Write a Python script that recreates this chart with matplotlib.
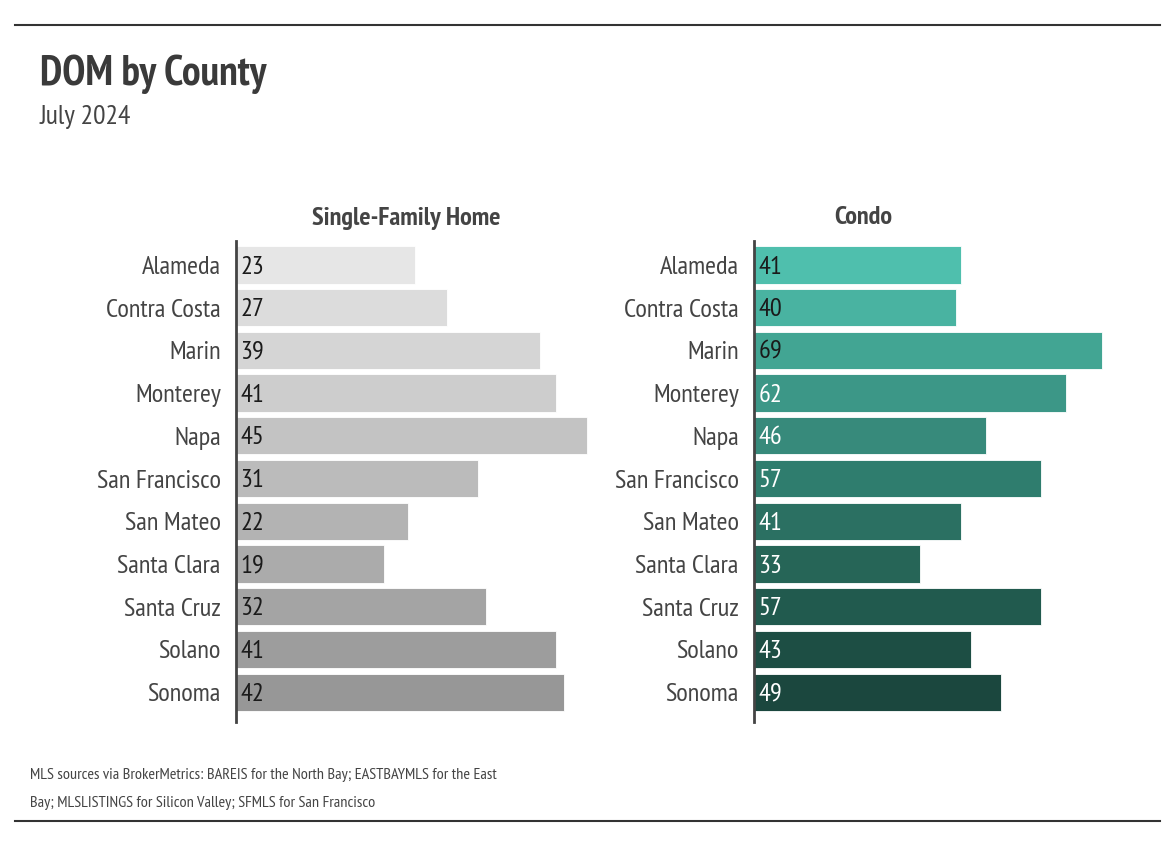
import matplotlib
matplotlib.use("Agg")
import matplotlib.pyplot as plt
from matplotlib import font_manager
from matplotlib.lines import Line2D

# pick a narrow font if one is installed
names = set(f.name for f in font_manager.fontManager.ttflist)
font = "DejaVu Sans"
for cand in ["PT Sans Narrow", "Liberation Sans Narrow", "Roboto Condensed", "Open Sans Condensed", "Arial Narrow"]:
    if cand in names:
        font = cand
        break
plt.rcParams["font.family"] = [font, "DejaVu Sans"]

counties = ["Alameda", "Contra Costa", "Marin", "Monterey", "Napa", "San Francisco",
            "San Mateo", "Santa Clara", "Santa Cruz", "Solano", "Sonoma"]
sfh = [23, 27, 39, 41, 45, 31, 22, 19, 32, 41, 42]
condo = [41, 40, 69, 62, 46, 57, 41, 33, 57, 43, 49]

gray_colors = ["#e6e6e6", "#dcdcdc", "#d5d5d5", "#cdcdcd", "#c3c3c3", "#bbbbbb",
               "#b3b3b3", "#ababab", "#a4a4a4", "#9d9d9d", "#979797"]
teal_colors = ["#4fbfad", "#49b3a1", "#42a593", "#3c9787", "#378a7b", "#2f7d6e",
               "#2b7062", "#266557", "#215a4e", "#1d4e44", "#1b473e"]
condo_text = ["#1a1a1a", "#1a1a1a", "#1a1a1a"] + ["white"] * 8

W, H = 1174, 856
fig = plt.figure(figsize=(W / 100, H / 100), dpi=100)
fig.patch.set_facecolor("white")


def px_axes(x0, y0, x1, y1):
    return fig.add_axes([x0 / W, 1 - y1 / H, (x1 - x0) / W, (y1 - y0) / H])


def panel(ax, values, colors, txtcolors, xmax):
    pos = list(range(len(counties)))
    ax.barh(pos, values, height=0.87, color=colors, edgecolor="white", linewidth=0.6)
    ax.set_xlim(0, xmax)
    ax.set_ylim(10.7, -0.56)
    ax.set_yticks(pos)
    ax.set_yticklabels(counties, fontsize=19, color="#444444")
    ax.tick_params(axis="y", length=0, pad=11)
    ax.set_xticks([])
    for s in ["top", "right", "bottom"]:
        ax.spines[s].set_visible(False)
    ax.spines["left"].set_color("#444444")
    ax.spines["left"].set_linewidth(2)
    ax.spines["left"].set_zorder(5)
    for p, v, c in zip(pos, values, txtcolors):
        ax.annotate(str(v), (0, p), xytext=(3, -1.5), textcoords="offset points",
                    va="center", ha="left", fontsize=19, color=c)
    ax.set_facecolor("none")
    return ax


ax1 = px_axes(236, 241, 600, 722)
panel(ax1, sfh, gray_colors, ["#1a1a1a"] * 11, 364 / 7.8)
ax2 = px_axes(754, 241, 1110, 722)
panel(ax2, condo, teal_colors, condo_text, 356 / 5.04)

fig.text(406 / W, 1 - 218 / H, "Single-Family Home", ha="center", va="center",
         fontsize=19, fontweight="bold", color="#444444")
fig.text(863 / W, 1 - 217 / H, "Condo", ha="center", va="center",
         fontsize=19, fontweight="bold", color="#444444")

fig.text(40 / W, 1 - 74 / H, "DOM by County", ha="left", va="center",
         fontsize=30, fontweight="bold", color="#3a3a3a")
fig.text(40 / W, 1 - 117 / H, "July 2024", ha="left", va="center",
         fontsize=20, color="#444444")

fig.text(30 / W, 1 - 775 / H, "MLS sources via BrokerMetrics: BAREIS for the North Bay; EASTBAYMLS for the East",
         ha="left", va="center", fontsize=11.7, color="#444444")
fig.text(30 / W, 1 - 803 / H, "Bay; MLSLISTINGS for Silicon Valley; SFMLS for San Francisco",
         ha="left", va="center", fontsize=11.7, color="#444444")

for yy in [25, 821]:
    fig.add_artist(Line2D([15 / W, 1160 / W], [1 - yy / H, 1 - yy / H],
                          color="#333333", linewidth=1.5))

fig.savefig("out.png", dpi=100, facecolor="white")
